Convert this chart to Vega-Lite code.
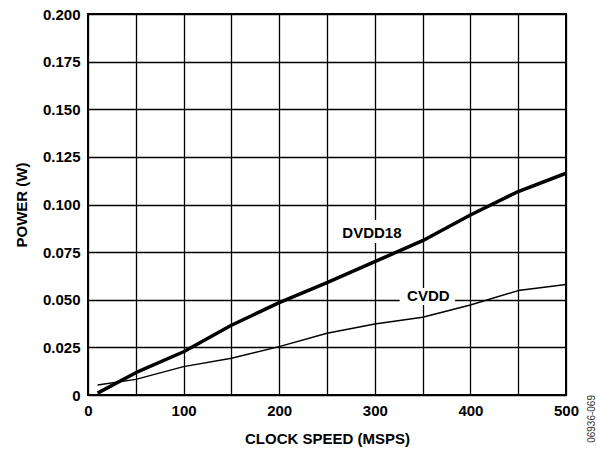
{
  "$schema": "https://vega.github.io/schema/vega-lite/v6.json",
  "autosize": {"type": "none"},
  "padding": {"left": 88, "top": 14, "right": 33, "bottom": 56},
  "width": 478,
  "height": 381,
  "background": "white",
  "config": {
    "font": "Liberation Sans",
    "view": {"stroke": "black", "strokeWidth": 2},
    "axis": {
      "labelFont": "Liberation Sans", "labelFontSize": 15, "labelFontWeight": "bold", "labelColor": "black",
      "titleFont": "Liberation Sans", "titleFontSize": 15, "titleFontWeight": "bold", "titleColor": "black",
      "grid": true, "gridColor": "black", "gridWidth": 1.3, "gridOpacity": 1,
      "domain": false, "ticks": false
    }
  },
  "title": {
    "text": "06936-069", "orient": "right", "anchor": "end", "angle": -90, "frame": "group",
    "fontSize": 10, "fontWeight": "normal", "color": "#333", "font": "Liberation Sans", "offset": -2
  },
  "datasets": {
    "lines": [
      {"series": "DVDD18", "clock": 10, "power": 0.001},
      {"series": "DVDD18", "clock": 50, "power": 0.0117},
      {"series": "DVDD18", "clock": 100, "power": 0.0227},
      {"series": "DVDD18", "clock": 150, "power": 0.0366},
      {"series": "DVDD18", "clock": 200, "power": 0.0485},
      {"series": "DVDD18", "clock": 250, "power": 0.059},
      {"series": "DVDD18", "clock": 300, "power": 0.0700},
      {"series": "DVDD18", "clock": 350, "power": 0.0810},
      {"series": "DVDD18", "clock": 400, "power": 0.0945},
      {"series": "DVDD18", "clock": 450, "power": 0.1068},
      {"series": "DVDD18", "clock": 500, "power": 0.1164},
      {"series": "CVDD", "clock": 10, "power": 0.0052},
      {"series": "CVDD", "clock": 50, "power": 0.0082},
      {"series": "CVDD", "clock": 100, "power": 0.0149},
      {"series": "CVDD", "clock": 150, "power": 0.0193},
      {"series": "CVDD", "clock": 200, "power": 0.0254},
      {"series": "CVDD", "clock": 250, "power": 0.0324},
      {"series": "CVDD", "clock": 300, "power": 0.0373},
      {"series": "CVDD", "clock": 350, "power": 0.0408},
      {"series": "CVDD", "clock": 400, "power": 0.0472},
      {"series": "CVDD", "clock": 450, "power": 0.0548},
      {"series": "CVDD", "clock": 500, "power": 0.058}
    ],
    "labels": [
      {"label": "DVDD18", "clock": 297, "power": 0.0853, "x1": 262, "x2": 332, "y1": 0.0798, "y2": 0.0919},
      {"label": "CVDD", "clock": 356, "power": 0.0519, "x1": 326, "x2": 384, "y1": 0.0473, "y2": 0.0562}
    ]
  },
  "layer": [
    {
      "data": {"name": "labels"},
      "mark": {"type": "rect", "fill": "white", "stroke": null},
      "encoding": {
        "x": {"field": "x1", "type": "quantitative", "scale": {"domain": [0, 500]},
          "axis": {"values": [0, 50, 100, 150, 200, 250, 300, 350, 400, 450, 500],
            "labelExpr": "datum.value % 100 == 0 ? datum.label : ''",
            "title": "CLOCK SPEED (MSPS)", "labelPadding": 8, "titlePadding": 13, "labelFlush": false}},
        "x2": {"field": "x2"},
        "y": {"field": "y1", "type": "quantitative", "scale": {"domain": [0, 0.2]},
          "axis": {"values": [0, 0.025, 0.05, 0.075, 0.1, 0.125, 0.15, 0.175, 0.2],
            "labelExpr": "datum.value == 0 ? '0' : format(datum.value, '.3f')",
            "title": "POWER (W)", "labelPadding": 8, "titlePadding": 13, "labelFlush": false}},
        "y2": {"field": "y2"}
      }
    },
    {
      "data": {"name": "lines"},
      "mark": {"type": "line", "color": "black", "strokeJoin": "round"},
      "encoding": {
        "x": {"field": "clock", "type": "quantitative"},
        "y": {"field": "power", "type": "quantitative"},
        "detail": {"field": "series"},
        "strokeWidth": {"field": "series", "type": "nominal",
          "scale": {"domain": ["DVDD18", "CVDD"], "range": [3.5, 1.5]}, "legend": null}
      }
    },
    {
      "data": {"name": "labels"},
      "mark": {"type": "text", "font": "Liberation Sans", "fontSize": 15, "fontWeight": "bold", "color": "black", "align": "center", "baseline": "middle"},
      "encoding": {
        "x": {"field": "clock", "type": "quantitative"},
        "y": {"field": "power", "type": "quantitative"},
        "text": {"field": "label"}
      }
    }
  ]
}
